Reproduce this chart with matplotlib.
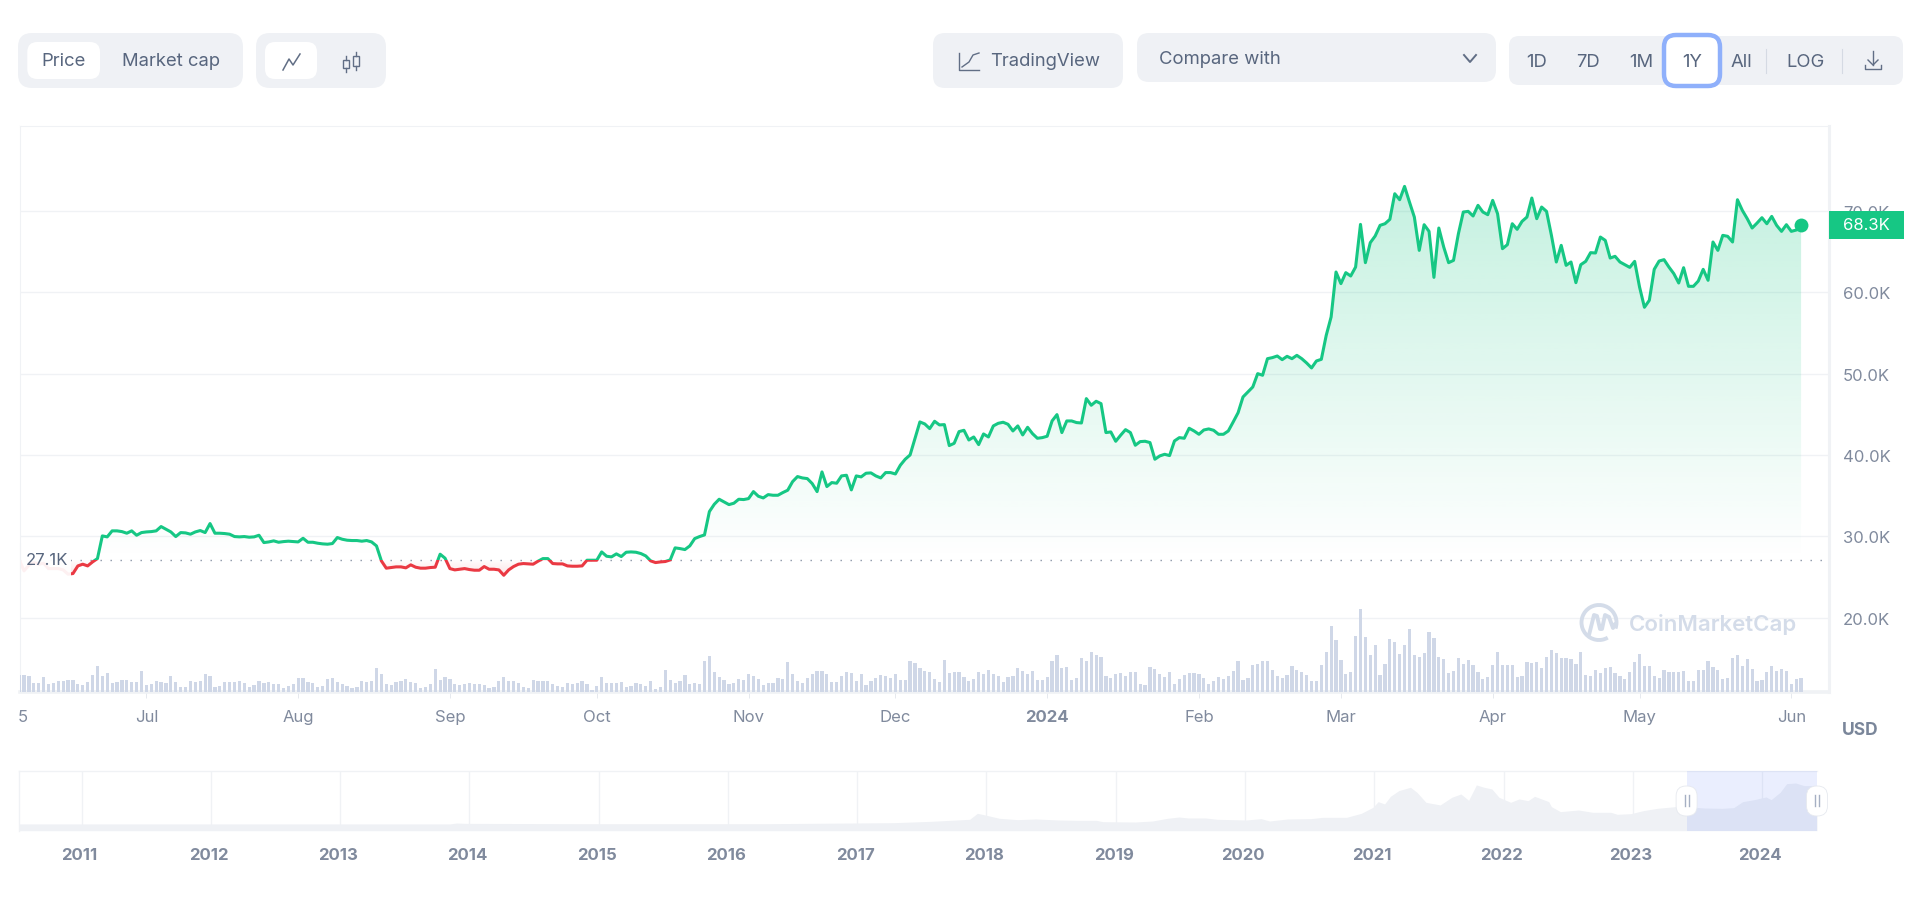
"""
Bitcoin one-year price chart with volume bars, toolbar and range navigator.
Values are read off the reference picture by eye.
"""
import numpy as np
import matplotlib
matplotlib.use('Agg')
import matplotlib.pyplot as plt
from matplotlib.patches import FancyBboxPatch, Rectangle, Arc
from matplotlib.transforms import ScaledTranslation

plt.rcParams.update({
    'font.family': ['Inter', 'DejaVu Sans'],
    'font.size': 11,
})

# daily close in thousand USD, first value is 5 Jun 2023
price_jun = [27.17, 25.74, 26.43, 26.76, 26.56, 26.68, 26.02, 26.02, 26.02, 25.86, 25.33, 25.41,
             26.35, 26.56, 26.35, 26.84, 27.25, 30.04, 29.92, 30.66, 30.66, 30.57, 30.37, 30.66,
             30.12, 30.45]
price_jul = [30.53, 30.57, 30.66, 31.19, 30.86, 30.53, 29.96, 30.45, 30.41, 30.25, 30.53, 30.70,
             30.45, 31.56, 30.37, 30.37, 30.33, 30.25, 29.96, 29.92, 29.96, 29.88, 29.92, 30.12,
             29.22, 29.30, 29.43, 29.26, 29.34, 29.39, 29.34]
price_aug = [29.30, 29.75, 29.26, 29.26, 29.14, 29.06, 29.02, 29.10, 29.84, 29.63, 29.51, 29.47,
             29.47, 29.39, 29.47, 29.30, 28.81, 26.97, 26.07, 26.15, 26.23, 26.23, 26.11, 26.48,
             26.19, 26.07, 26.07, 26.15, 26.19, 27.79, 27.30]
price_sep = [26.02, 25.86, 25.94, 26.02, 25.90, 25.82, 25.82, 26.27, 25.94, 25.94, 25.86, 25.20,
             25.86, 26.27, 26.56, 26.64, 26.60, 26.56, 26.93, 27.25, 27.25, 26.64, 26.60, 26.60,
             26.35, 26.31, 26.31, 26.35, 27.05, 27.05]
price_oct = [27.05, 28.07, 27.54, 27.46, 27.83, 27.50, 28.03, 28.07, 28.03, 27.87, 27.58, 26.97,
             26.76, 26.84, 26.89, 27.09, 28.57, 28.48, 28.36, 28.81, 29.71, 29.96, 30.16, 33.03,
             33.93, 34.55, 34.22, 33.89, 34.06, 34.55, 34.51]
price_nov = [34.63, 35.49, 34.92, 34.71, 35.12, 35.04, 35.04, 35.37, 35.66, 36.72, 37.34, 37.17,
             37.09, 36.48, 35.49, 37.91, 36.11, 36.60, 36.52, 37.42, 37.50, 35.70, 37.42, 37.30,
             37.75, 37.79, 37.42, 37.17, 37.83, 37.83]
price_dec = [37.66, 38.73, 39.47, 40.00, 42.01, 44.06, 43.81, 43.24, 44.14, 43.69, 43.73, 41.15,
             41.43, 42.87, 43.03, 41.84, 42.21, 41.27, 42.58, 42.21, 43.57, 43.89, 44.02, 43.77,
             42.95, 43.57, 42.46, 43.40, 42.62, 42.05, 42.13]
price_jan = [42.30, 44.18, 44.96, 42.75, 44.18, 44.18, 43.98, 43.93, 46.93, 46.11, 46.60, 46.31,
             42.75, 42.83, 41.68, 42.42, 43.11, 42.75, 41.19, 41.64, 41.68, 41.52, 39.47, 39.88,
             40.08, 39.92, 41.72, 42.13, 42.05, 43.28, 42.95]
price_feb = [42.54, 43.07, 43.20, 43.03, 42.54, 42.54, 42.95, 44.06, 45.20, 47.13, 47.75, 48.36,
             50.00, 49.80, 51.84, 51.97, 52.17, 51.72, 52.13, 51.84, 52.25, 51.84, 51.31, 50.70,
             51.56, 51.76, 54.71, 56.97, 62.50]
price_mar = [61.07, 62.42, 62.01, 63.11, 68.36, 63.65, 66.11, 66.93, 68.24, 68.44, 68.98, 72.13,
             71.39, 73.03, 71.11, 69.26, 65.16, 68.32, 67.50, 61.84, 67.91, 65.57, 63.65, 63.93,
             67.21, 69.88, 69.96, 69.39, 70.70, 69.88, 69.55]
price_apr = [71.31, 69.67, 65.37, 65.86, 68.44, 67.75, 68.73, 69.26, 71.60, 69.06, 70.49, 69.96,
             67.01, 63.73, 65.78, 63.32, 63.73, 61.19, 63.40, 63.81, 64.88, 64.84, 66.80, 66.39,
             64.22, 64.43, 63.73, 63.40, 63.07, 63.81]
price_may = [60.66, 58.16, 59.02, 62.83, 63.85, 64.02, 63.11, 62.30, 61.15, 63.03, 60.74, 60.74,
             61.39, 62.83, 61.48, 66.19, 65.16, 67.01, 66.89, 66.19, 71.39, 70.08, 69.06, 67.91,
             68.52, 69.18, 68.44, 69.34, 68.24, 67.50, 68.32]
price_jun24 = [67.50, 67.66, 68.30]

# daily volume in arbitrary units as drawn, same start day
volume_a = [16.7, 16.7, 15.7, 9, 8.7, 15, 8, 8.7, 11, 11.3, 12, 11.7, 8, 7, 10, 17.3, 26, 16, 19, 9,
            9.7, 12, 12, 10.3, 9.7, 20.7, 7.3, 8, 11.3, 10, 9.3, 16, 9.7, 5.3, 5, 11.3, 10, 11.3, 18,
            15.7, 5.3, 5.7, 10, 10, 9.7, 11.3, 8.7, 5.3, 6.7, 11.3, 8.7, 9.7, 7.7, 7.7, 4.3, 6, 8, 14,
            14.3, 9.7, 9.3, 4.7, 5.7, 13.3, 14, 10, 8.3, 5.7, 4.3, 5.3, 10.7, 9.7, 11.3, 24.3, 18.3,
            7.7, 7, 10, 10.7, 12.7, 10.3, 9.3, 4, 5, 7.7, 23, 12, 14.7, 13, 8, 7.3, 8, 9.3, 8, 8.3, 7,
            3.7, 5, 11, 14.7, 11, 10.7, 9, 5, 4.3, 12.3, 11.3, 11, 11, 8.3, 5.7, 5.3, 9, 8.3, 8.7, 11,
            7.7, 2.3, 6, 15, 8.7, 8.7, 9, 10, 4.7, 6, 9.3, 8.3, 5.7, 11.3, 2.7, 5, 22, 11.7, 9.3,
            10.7, 17, 8, 9]
volume_b = [7.7, 30.7, 36, 20, 15, 12, 8, 8.7, 12.7, 12.3, 17.7, 16, 13, 7.3, 9.3, 9.3, 14.3, 13, 30,
            17.7, 11, 8.7, 14, 18.3, 21.3, 21, 17.7, 9.7, 10.3, 16, 20, 19.3, 11, 17.7, 7, 11, 14.3,
            17, 16.3, 14, 18.3, 12, 12, 31.3, 29.3, 24, 21.3, 20, 12.7, 10.3, 32, 19.3, 20.3, 20,
            15.3, 11, 13, 20, 18.3, 22, 18, 16.3, 10.3, 14.7, 15.7, 24, 21, 17.7, 20.7, 12, 12, 14.7,
            31, 37, 24, 25, 12, 14.3, 34, 31.3, 40, 37.3, 34.7, 16, 13.7, 17.7, 19, 16.3, 20, 20, 8.3,
            7, 24.7, 23, 17.7, 14.7, 20, 8.3, 12.7, 17.3, 18.7, 19, 17.7, 14.3, 8, 11.3, 14.7, 13, 16,
            20.7, 31.3, 12.3, 14.3, 27.3, 28, 30.7, 30.7, 22, 15.7]
volume_c = [13.7, 16.7, 25.7, 22, 19.7, 17, 11.3, 11.3, 26.7, 39.7, 66.3, 52, 32, 18, 20.3, 56.3, 82.7,
            55, 37.3, 47.3, 17, 28, 52.7, 49.7, 38, 47.3, 62.7, 37.3, 35, 39, 59.7, 53.7, 34.7, 33, 19,
            21, 33.7, 28, 32, 26.7, 20, 13, 15, 27.3, 40.3, 27.3, 27.3, 26.7, 15, 16, 29.7, 29, 30.3,
            23.7, 35, 42, 39, 34.3, 33.7, 33, 28, 39.7, 17.3, 16, 22, 19, 23.7, 25, 19, 15.7, 13, 20.3,
            29.7, 38, 25.7, 25.7, 15.7, 13.7, 22, 20, 20.3, 20.3, 21.3, 10.7, 10.7, 22, 22, 31.3, 24.7,
            22, 13, 14.3, 34.3, 37, 25.7, 33, 22.7, 11.3, 12, 20, 25.7, 20.7, 23, 21.3, 8, 13, 14.3]

baseline_price = 27.13
last_price_label = '68.3K'
month_days = [-25.2, 0, 31, 62, 92, 123, 153, 184, 215, 244, 275, 305, 336]
month_labels = ['5', 'Jul', 'Aug', 'Sep', 'Oct', 'Nov', 'Dec', '2024', 'Feb', 'Mar', 'Apr', 'May', 'Jun']
price_ticks = [20, 30, 40, 50, 60, 70]
price_tick_labels = ['20.0K', '30.0K', '40.0K', '50.0K', '60.0K', '70.0K']

# long range history for the navigator, year and thousand USD
nav_years = [2010.52, 2013.85, 2013.90, 2013.97, 2014.81, 2016.29, 2017.28, 2017.57, 2017.87, 2017.93,
             2017.99, 2018.10, 2018.24, 2018.38, 2018.56, 2018.70, 2018.85, 2018.90, 2019.15, 2019.285,
             2019.40, 2019.49, 2019.56, 2019.695, 2019.785, 2020.01, 2020.125, 2020.19, 2020.33, 2020.51,
             2020.60, 2020.785, 2020.90, 2020.99, 2021.03, 2021.08, 2021.125, 2021.19, 2021.28, 2021.33,
             2021.40, 2021.51, 2021.60, 2021.67, 2021.73, 2021.79, 2021.85, 2021.91, 2021.965, 2022.055,
             2022.12, 2022.19, 2022.24, 2022.35, 2022.37, 2022.44, 2022.58, 2022.69, 2022.83, 2022.88,
             2022.985, 2023.08, 2023.19, 2023.33, 2023.42, 2023.55, 2023.69, 2023.78, 2023.85, 2023.94,
             2024.03, 2024.07, 2024.14, 2024.19, 2024.26, 2024.325, 2024.425]
nav_prices = [0.1, 0.1, 1.7, 1.1, 0.5, 0.5, 2.3, 4.7, 8.3, 19, 16, 10.1, 7.7, 8.9, 7.1, 6.5, 6.5, 4.1, 3.5,
              5.3, 10.1, 12.4, 10.7, 10.7, 8.3, 7.1, 9.5, 5.3, 8.9, 9.5, 11.8, 11.8, 19, 29.7, 39.8, 35.7,
              49.3, 59.5, 65.4, 56.5, 38.6, 33.9, 47.6, 53.5, 42.2, 69.6, 65.4, 62.4, 47.6, 38.6, 44.6, 41.6,
              49.3, 39.8, 30.9, 22, 24.9, 20.8, 20.8, 17.2, 18.4, 23.7, 27.9, 30.9, 30.9, 28.5, 27.9, 29.1,
              39.8, 43.4, 48.2, 43.4, 56.5, 71.9, 73.1, 68.4, 68.4]
nav_tick_years = list(range(2011, 2025))

price = np.array(price_jun + price_jul + price_aug + price_sep + price_oct + price_nov + price_dec
                 + price_jan + price_feb + price_mar + price_apr + price_may + price_jun24)
volume = np.array(volume_a + volume_b + volume_c)
days = np.arange(len(price)) - 26
vol_days = np.arange(len(volume)) - 26

GREEN = '#16c784'
RED = '#ea3943'
GRID = '#f0f2f5'
TICK = '#808a9d'
TEXT = '#58667e'
ICON = '#616e85'
PANEL = '#eff1f5'
W, H = 1920, 912


def px_axes(left, top, right, bottom, **kw):
    return fig.add_axes([left / W, 1 - bottom / H, (right - left) / W, (bottom - top) / H], **kw)


def gradient(a0, a1, hex_color):
    rgb = matplotlib.colors.to_rgb(hex_color)
    img = np.ones((256, 2, 4))
    img[..., :3] = rgb
    img[..., 3] = np.repeat(np.linspace(a0, a1, 256)[:, None], 2, axis=1)
    return img


fig = plt.figure(figsize=(19.2, 9.12), dpi=100, facecolor='white')

# main price panel
ax = px_axes(19.6, 127, 1829, 693)
x_lo, x_hi = -25.9, 343.7
y_lo, y_hi = 10.84, 80.46

# volume bars share the x scale, hidden y scale
ax_vol = ax.twinx()
ax_vol.bar(vol_days, volume, width=0.66, color='#cfd7e7', lw=0, zorder=2)
ax_vol.set_ylim(0, 566)
ax_vol.yaxis.set_visible(False)
ax_vol.patch.set_visible(False)
for s in ax_vol.spines.values():
    s.set_visible(False)
ax_vol.set_zorder(ax.get_zorder() + 1)

ax.yaxis.tick_right()
ax.set_yticks(price_ticks)
ax.set_yticklabels(price_tick_labels, fontsize=12, color=TICK, ha='left')
ax.tick_params(axis='y', length=0, pad=10, labelright=True, labelleft=False)
ax.set_xticks(month_days)
ax.set_xticklabels(month_labels, fontsize=12, color=TICK)
ax.get_xticklabels()[7].set_fontweight('bold')
ax.tick_params(axis='x', length=4, width=0.7, color='#e6e9ee', pad=8)
ax.xaxis.get_major_ticks()[0].tick1line.set_visible(False)
ax.grid(axis='y', color=GRID, lw=1.0)
ax.set_axisbelow(True)
for side, lw in [('left', 0.8), ('top', 0.8), ('right', 2.2), ('bottom', 2.6)]:
    ax.spines[side].set_color(GRID)
    ax.spines[side].set_linewidth(lw)

# area fill with fading colour, clipped to the price outline
outline = ax.fill_between(days, baseline_price, price, color='none', lw=0)
clip_path = outline.get_paths()[0]
im = ax.imshow(gradient(0.0, 0.25, GREEN), origin='lower', aspect='auto', zorder=1.2,
               extent=(days[0], days[-1], baseline_price, price.max()))
im.set_clip_path(clip_path, ax.transData)
im_red = ax.imshow(gradient(0.14, 0.0, RED), origin='lower', aspect='auto', zorder=1.2,
                   extent=(days[0], days[-1], price.min(), baseline_price))
im_red.set_clip_path(clip_path, ax.transData)

ax.axhline(baseline_price, color='#8a94a6', lw=1.0, ls=(0, (1, 6.2)), zorder=1.6)
ax.set_xlim(x_lo, x_hi)
ax.set_ylim(y_lo, y_hi)
ax_vol.set_xlim(x_lo, x_hi)

# price line goes above the bars, so it lives on the top axes
line_green, = ax_vol.plot(days, np.interp(price, [y_lo, y_hi], [0, 566]), color=GREEN, lw=2.2, zorder=3)
line_green.set_clip_path(Rectangle((x_lo, baseline_price), x_hi - x_lo, y_hi - baseline_price,
                                   transform=ax.transData))
line_red, = ax_vol.plot(days, np.interp(price, [y_lo, y_hi], [0, 566]), color=RED, lw=2.2, zorder=3)
line_red.set_clip_path(Rectangle((x_lo, y_lo), x_hi - x_lo, baseline_price - y_lo,
                                 transform=ax.transData))
ax_vol.plot(days[-1], np.interp(price[-1], [y_lo, y_hi], [0, 566]), 'o', color=GREEN, ms=10, mew=0, zorder=4)

# navigator
nav = px_axes(19, 771.7, 1817, 831.7)
nav_lo, nav_hi = 2010.516, 2024.425
nav.fill_between(nav_years, -12, nav_prices, color=PANEL, lw=0, zorder=2)
nav.set_xlim(nav_lo, nav_hi)
nav.set_ylim(-12, 95)
nav.set_yticks([])
nav.set_xticks(nav_tick_years)
nav.set_xticklabels([str(y) for y in nav_tick_years], fontsize=12, fontweight='bold', color=TICK)
nav.tick_params(axis='x', length=0, pad=11.5)
shift = ScaledTranslation(-2 / 100, 0, fig.dpi_scale_trans)
for t in nav.get_xticklabels():
    t.set_transform(t.get_transform() + shift)
nav.grid(axis='x', color=GRID, lw=1.0, zorder=1)
nav.set_axisbelow(True)
for side in ['right', 'bottom']:
    nav.spines[side].set_visible(False)
for side in ['left', 'top']:
    nav.spines[side].set_color(GRID)
    nav.spines[side].set_linewidth(1.0)
nav.axvspan(2023.42, nav_hi, color='#3861fb', alpha=0.10, lw=0, zorder=3)

# toolbar, value tag and watermark sit in a pixel space overlay
ui = fig.add_axes([0, 0, 1, 1], zorder=20)
ui.set_xlim(0, W)
ui.set_ylim(H, 0)
ui.axis('off')
ui.patch.set_visible(False)


def pill(x0, y0, x1, y1, r=10, fc=PANEL, ec='none', lw=0, z=2):
    ui.add_patch(FancyBboxPatch((x0, y0), x1 - x0, y1 - y0, boxstyle=f'round,pad=0,rounding_size={r}',
                                fc=fc, ec=ec, lw=lw, zorder=z))


def label(x, y, s, size=13.3, color=TEXT, ha='center', weight='normal', z=5):
    ui.text(x, y, s, fontsize=size, color=color, ha=ha, va='center', fontweight=weight, zorder=z)


pill(18, 34, 243, 89, r=14)
pill(27.3, 43, 100, 80, r=10, fc='white')
label(64, 61.5, 'Price')
label(171, 61.5, 'Market cap')
pill(256, 34, 386, 89, r=14)
pill(265, 43, 317, 80, r=10, fc='white')
ui.plot([283, 289, 293, 300], [71, 60, 66, 55], color=ICON, lw=1.1, zorder=5)
for cx, top, bot in [(346, 61, 69), (356, 57, 67)]:
    ui.add_patch(Rectangle((cx - 3, top), 6, bot - top, fc='none', ec=ICON, lw=1.0, zorder=5))
    ui.plot([cx, cx], [top - 4, top], color=ICON, lw=1.0, zorder=4)
    ui.plot([cx, cx], [bot, bot + 4], color=ICON, lw=1.0, zorder=4)

pill(933, 34, 1123, 89, r=12)
ui.plot([959, 959, 979], [54, 71, 71], color=ICON, lw=1.0, zorder=5)
ui.plot([962, 969, 973, 979], [68, 63, 56, 54], color=ICON, lw=1.0, zorder=5)
label(1045, 62, 'TradingView')
pill(1137, 34, 1496, 83, r=12)
label(1159, 59.5, 'Compare with', ha='left')
ui.plot([1464, 1470, 1476], [56, 63, 56], color=ICON, lw=1.4, zorder=5)

pill(1509, 37, 1903, 86, r=10)
pill(1664, 36, 1720, 87, r=12, fc='white', ec='#8fb0fb', lw=3.2)
for cx, s in [(1537, '1D'), (1588, '7D'), (1641, '1M'), (1692, '1Y'), (1741, 'All'), (1805, 'LOG')]:
    label(cx, 62.5, s)
for sx in [1766, 1842]:
    ui.plot([sx, sx], [50, 74], color='#d5dae3', lw=0.8, zorder=4)
ui.plot([1873, 1873], [52, 66], color=ICON, lw=1.0, zorder=5)
ui.plot([1868, 1873, 1878], [61, 66, 61], color=ICON, lw=1.0, zorder=5)
ui.plot([1865, 1865, 1881, 1881], [66, 70, 70, 66], color=ICON, lw=1.0, zorder=5)

# start label hides the first days behind a white veil
ui.add_patch(Rectangle((17, 545), 54, 36, fc='white', alpha=0.93, lw=0, zorder=2))
ui.plot([19.6, 19.6], [545, 581], color=GRID, lw=0.8, zorder=3)
label(46.5, 561, '27.1K', size=12)

# last price tag
ui.add_patch(Rectangle((1829, 212), 74.5, 27.5, fc=GREEN, lw=0, zorder=3))
label(1866, 226, last_price_label, size=12, color='white')
label(1860, 730.5, 'USD', size=12.5, color='#7a869a', weight='bold')

# watermark
logo = '#d4dce9'
ui.add_patch(Arc((1599, 623.5), 35, 35, theta1=60, theta2=380, color=logo, lw=2.8, zorder=3))
ui.plot([1589, 1594, 1597, 1600, 1602, 1605, 1609, 1613, 1615],
        [636, 616, 617, 630, 630, 616, 618, 629, 625],
        color=logo, lw=2.8, zorder=3, solid_capstyle='round')
label(1712.5, 625, 'CoinMarketCap', size=16, color=logo, weight='semibold', z=3)

# navigator handles
for cx in [1686.6, 1817]:
    pill(cx - 10.5, 787, cx + 10.5, 817, r=10, fc='white', ec='#e6e9ef', lw=0.6)
    for dx in [-2, 2]:
        ui.plot([cx + dx, cx + dx], [796, 807], color='#a6b0c3', lw=1.0, zorder=5)

plt.savefig('out.png', dpi=100, facecolor='white')
